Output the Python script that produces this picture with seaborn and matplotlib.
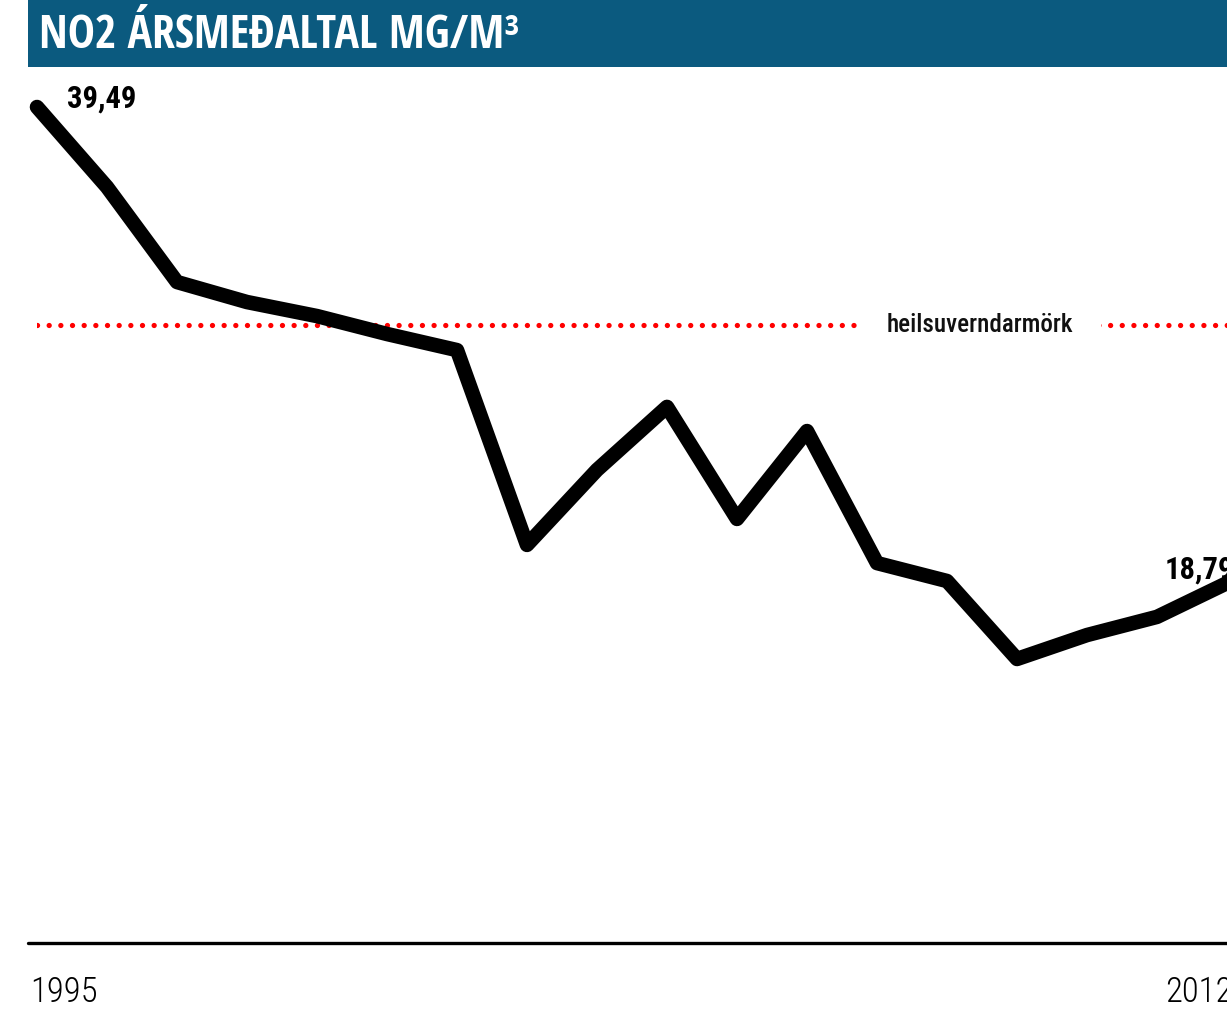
import matplotlib
matplotlib.use("Agg")
import matplotlib.pyplot as plt
import matplotlib.patches as mpatches
import seaborn as sns
import pandas as pd

# ---- data ----
years = list(range(1995, 2013))
values = [39.49, 36.01, 31.88, 31.01, 30.40, 29.62, 28.92, 20.45, 23.71, 26.45,
          21.58, 25.40, 19.66, 18.88, 15.49, 16.53, 17.32, 18.79]
limit_value = 30
limit_label = "heilsuverndarmörk"
title = "NO2 ÁRSMEÐALTAL MG/M³"
first_label = "39,49"
last_label = "18,79"
tick_years = [1995, 2012]

df = pd.DataFrame({"year": years, "value": values})

sns.set_style("white")
plt.rcParams["font.family"] = ["Roboto Condensed", "DejaVu Sans"]
title_family = ["Open Sans Condensed", "Roboto Condensed", "DejaVu Sans"]

W, H = 1227, 1027
fig = plt.figure(figsize=(W / 100, H / 100), dpi=100)
fig.patch.set_facecolor("white")

# title bar
fig.patches.append(mpatches.Rectangle((28 / W, 1 - 67 / H), 1 - 28 / W, 67 / H,
                                      transform=fig.transFigure, facecolor="#0b5a7f",
                                      edgecolor="none", zorder=0))
fig.text(39 / W, 1 - 35 / H, title, color="white", fontsize=33, fontweight="bold",
         family=title_family, va="center", ha="left")

ax = fig.add_axes([37 / W, (H - 943) / H, 1190 / W, (943 - 67) / H])
ax.set_xlim(1995, 2012)
ax.set_ylim(3.14, 41.23)
ax.axis("off")

# limit line (dotted red)
ax.axhline(limit_value, xmin=0, xmax=1, color="red", linewidth=3.8,
           linestyle=(0, (0.01, 2.2)), dash_capstyle="round", zorder=1)
ax.text(2008.47, limit_value, limit_label, ha="center", va="center", fontsize=18,
        fontweight="medium", color="#111111",
        bbox=dict(facecolor="white", edgecolor="none", pad=20), zorder=2)

# main line
sns.lineplot(data=df, x="year", y="value", ax=ax, color="black", linewidth=10.5,
             solid_joinstyle="round", solid_capstyle="round", clip_on=False, zorder=3)

# baseline
ax.axhline(ax.get_ylim()[0], xmin=-9 / 1190, xmax=1, color="black", linewidth=2.4,
           clip_on=False, zorder=3)

# value labels
ax.annotate(first_label, (years[0], values[0]), xytext=(21.5, 0), textcoords="offset points",
            ha="left", va="baseline", fontsize=22, fontweight="bold", color="black")
ax.annotate(last_label, (years[-1], values[-1]), xytext=(-44.6, 3), textcoords="offset points",
            ha="left", va="baseline", fontsize=22, fontweight="bold", color="black")

# year labels
ymin = ax.get_ylim()[0]
ax.annotate(str(tick_years[0]), (tick_years[0], ymin), xytext=(-5, -42.5), textcoords="offset points",
            ha="left", va="baseline", fontsize=25, fontweight="light", color="black")
ax.annotate(str(tick_years[1]), (tick_years[1], ymin), xytext=(-44.6, -42.5), textcoords="offset points",
            ha="left", va="baseline", fontsize=25, fontweight="light", color="black")

fig.savefig("out.png", dpi=100)
